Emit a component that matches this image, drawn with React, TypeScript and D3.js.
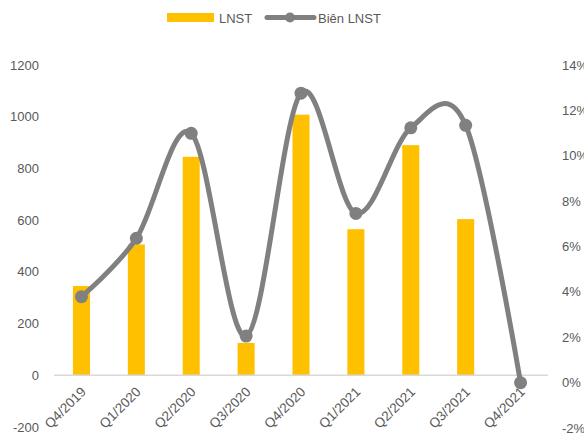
import * as d3 from "d3";
import * as React from "react";

// data
const quarters = ["Q4/2019", "Q1/2020", "Q2/2020", "Q3/2020", "Q4/2020", "Q1/2021", "Q2/2021", "Q3/2021", "Q4/2021"];
const lnst = [345, 506, 845, 125, 1008, 565, 890, 604, 0];
const bienLnst = [3.79, 6.36, 10.99, 2.05, 12.76, 7.46, 11.23, 11.34, 0];
const leftTicks = [-200, 0, 200, 400, 600, 800, 1000, 1200];
const rightTicks = [-2, 0, 2, 4, 6, 8, 10, 12, 14];

const width = 584;
const height = 440;
const margin = { top: 65, right: 36, bottom: 13, left: 54 };
const font = "'Liberation Sans', Arial, sans-serif";
const textColor = "#595959";

export default function App() {
  const x = d3
    .scaleBand()
    .domain(quarters)
    .range([margin.left, width - margin.right])
    .paddingInner(0)
    .paddingOuter(0);

  const y = d3
    .scaleLinear()
    .domain([-200, 1200])
    .range([height - margin.bottom, margin.top]);

  // right axis has its own tick spacing (9 labels vs 8 on the left)
  const y2 = d3
    .scaleLinear()
    .domain([-2, 14])
    .range([height - margin.bottom + 1, margin.top]);

  const barW = x.bandwidth() * 0.31;
  const cx = (d) => x(d) + x.bandwidth() / 2;

  const line = d3
    .line()
    .x((d, i) => cx(quarters[i]))
    .y((d) => y2(d))
    .curve(d3.curveCardinal.tension(0));

  return (
    <svg
      width={width}
      height={height}
      style={{ position: "absolute", left: 0, top: 0, background: "#fff" }}
      fontFamily={font}
    >
      {/* legend */}
      <g>
        <rect x={167} y={13} width={47} height={9} fill="#ffc000" />
        <text x={219} y={23} fontSize={13} fill={textColor}>LNST</text>
        <line x1={267} x2={314} y1={17.5} y2={17.5} stroke="#808080" strokeWidth={5} strokeLinecap="round" />
        <circle cx={290} cy={17.5} r={5} fill="#808080" />
        <text x={318} y={23} fontSize={13} fill={textColor}>Biên LNST</text>
      </g>

      {/* left axis */}
      {leftTicks.map((t) => (
        <text key={"l" + t} x={39} y={y(t)} dy="0.35em" textAnchor="end" fontSize={13} fill={textColor}>
          {t}
        </text>
      ))}

      {/* right axis */}
      {rightTicks.map((t) => (
        <text key={"r" + t} x={562} y={y2(t)} dy="0.35em" textAnchor="start" fontSize={13} fill={textColor}>
          {t + "%"}
        </text>
      ))}

      {/* bars */}
      {quarters.map((q, i) =>
        lnst[i] > 0 ? (
          <rect
            key={q}
            x={cx(q) - barW / 2}
            y={y(lnst[i])}
            width={barW}
            height={y(0) - y(lnst[i])}
            fill="#ffc000"
          />
        ) : null
      )}

      {/* zero line */}
      <line
        x1={margin.left}
        x2={width - margin.right}
        y1={y(0)}
        y2={y(0)}
        stroke="#d9d9d9"
        strokeWidth={1.5}
      />

      {/* x labels */}
      {quarters.map((q) => (
        <text
          key={"x" + q}
          transform={`translate(${cx(q) + 2},${y(0) + 14}) rotate(-45)`}
          textAnchor="end"
          dy="0.35em"
          fontSize={13.5}
          fill={textColor}
        >
          {q}
        </text>
      ))}

      {/* line series */}
      <path d={line(bienLnst)} fill="none" stroke="#808080" strokeWidth={5} strokeLinecap="round" />
      {bienLnst.map((v, i) => (
        <circle key={"c" + i} cx={cx(quarters[i])} cy={y2(v)} r={6.5} fill="#808080" />
      ))}
    </svg>
  );
}
